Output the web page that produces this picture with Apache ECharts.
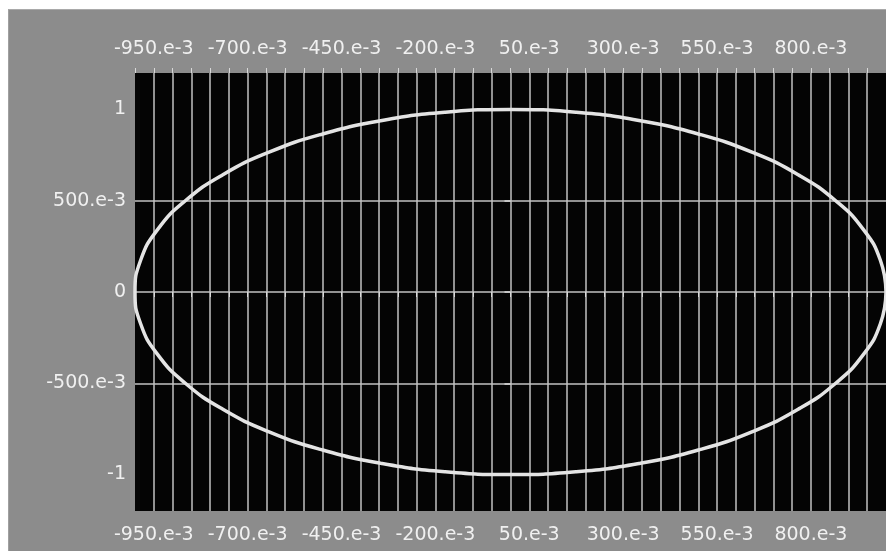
<!DOCTYPE html>
<html>
<head>
<meta charset="utf-8">
<script src="https://cdn.jsdelivr.net/npm/echarts@6/dist/echarts.min.js"></script>
<style>
  html, body { margin: 0; padding: 0; background: #ffffff; }
  #wrap { position: absolute; left: 0; top: 0; width: 886px; height: 551px; background: #ffffff; overflow: hidden; }
  #chart { position: absolute; left: 8px; top: 9px; width: 878px; height: 542px; background: #8c8c8c;
           border-top: 1px solid #a9a9a9; border-left: 1px solid #a0a0a0; box-sizing: border-box; }
</style>
</head>
<body>
<div id="wrap"><div id="chart"></div></div>
<script>
// Points (x, y)
const curveX = [1, 0.985, 0.940, 0.866, 0.766, 0.643, 0.500, 0.342, 0.174, 0, -0.174, -0.342, -0.500, -0.643, -0.766, -0.866, -0.940, -0.985, -1, -0.985, -0.940, -0.866, -0.766, -0.643, -0.500, -0.342, -0.174, 0, 0.174, 0.342, 0.500, 0.643, 0.766, 0.866, 0.940, 0.985, 1];
const curveY = [0, 0.174, 0.342, 0.500, 0.643, 0.766, 0.866, 0.940, 0.985, 1, 0.985, 0.940, 0.866, 0.766, 0.643, 0.500, 0.342, 0.174, 0, -0.174, -0.342, -0.500, -0.643, -0.766, -0.866, -0.940, -0.985, -1, -0.985, -0.940, -0.866, -0.766, -0.643, -0.500, -0.342, -0.174, 0];
// Tick labels
const xLabelValues = [-0.95, -0.7, -0.45, -0.2, 0.05, 0.3, 0.55, 0.8];
const yLabelValues = [-1, -0.5, 0, 0.5, 1];

function fmt(v) {
  const m = Math.round(v * 1000);
  if (m === 0) return '0';
  if (m === 1000) return '1';
  if (m === -1000) return '-1';
  return m + '.e-3';
}

const pts = curveX.map((x, i) => [x, curveY[i]]);
const labelStyle = { color: '#f0f0f0', fontSize: 19, fontFamily: 'DejaVu Sans, sans-serif' };

const chart = echarts.init(document.getElementById('chart'), null, { renderer: 'canvas' });
const xBase = {
  type: 'value', min: -1, max: 1, interval: 0.05,
  axisLine: { show: false },
  axisTick: { show: true, inside: false, length: 5, lineStyle: { color: '#d8d8d8', width: 1 } }
};
chart.setOption({
  animation: false,
  backgroundColor: 'transparent',
  grid: { left: 126, right: -11, top: 63, bottom: 40, show: true, backgroundColor: '#040404', borderWidth: 0, containLabel: false },
  xAxis: [
    Object.assign({}, xBase, {
      position: 'bottom',
      axisLabel: Object.assign({ margin: 15, customValues: xLabelValues, formatter: fmt }, labelStyle),
      splitLine: { show: true, showMinLine: false, showMaxLine: false, lineStyle: { color: '#c2c2c2', width: 1.5 } }
    }),
    Object.assign({}, xBase, {
      position: 'top',
      axisLabel: Object.assign({ margin: 14, customValues: xLabelValues, formatter: fmt }, labelStyle),
      splitLine: { show: false }
    })
  ],
  yAxis: {
    type: 'value', min: -1.2, max: 1.2,
    axisLine: { show: false },
    axisTick: { show: true, inside: false, length: 6, customValues: yLabelValues, lineStyle: { color: '#d8d8d8', width: 1.5 } },
    axisLabel: Object.assign({ margin: 9, customValues: yLabelValues, formatter: fmt }, labelStyle),
    splitLine: { show: true, showMinLine: false, showMaxLine: false, lineStyle: { color: '#c2c2c2', width: 1.5 } }
  },
  series: [{
    type: 'line',
    data: pts,
    smooth: true,
    showSymbol: false,
    symbol: 'none',
    clip: true,
    lineStyle: { color: '#e4e4e4', width: 3.5 }
  }]
});
</script>
</body>
</html>
